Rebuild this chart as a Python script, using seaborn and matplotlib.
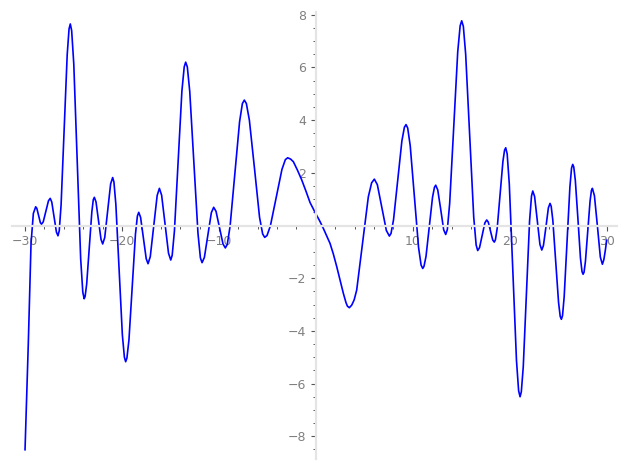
import numpy as np
import pandas as pd
import seaborn as sns
import matplotlib
matplotlib.use("Agg")
import matplotlib.pyplot as plt
from matplotlib.ticker import FixedLocator, MultipleLocator

# curve samples
x_vals = [-30.0, -29.66, -29.38, -29.14, -28.9,
          -28.78, -28.6, -28.42, -28.3,
          -28.12, -27.85, -27.58, -27.4,
          -27.24, -27.0, -26.76, -26.6,
          -26.47, -26.28, -25.97, -25.65, -25.46, -25.33,
          -25.19, -24.97, -24.62, -24.26, -24.04, -23.9,
          -23.80, -23.64, -23.38, -23.11, -22.96, -22.85,
          -22.68, -22.42, -22.16, -21.99,
          -21.78, -21.48, -21.17, -20.96,
          -20.83, -20.63, -20.29, -19.96, -19.75, -19.62,
          -19.49, -19.28, -18.95, -18.61, -18.41, -18.27,
          -18.08, -17.79, -17.50, -17.31,
          -17.08, -16.73, -16.37, -16.14,
          -15.91, -15.56, -15.20, -14.97,
          -14.82, -14.59, -14.20, -13.82, -13.58, -13.43,
          -13.26, -13.01, -12.59, -12.16, -11.91, -11.74,
          -11.50, -11.14, -10.78, -10.54,
          -10.30, -9.94, -9.58, -9.34,
          -9.14, -8.85, -8.36, -7.87, -7.58, -7.38,
          -7.17, -6.86, -6.33, -5.81, -5.49, -5.28,
          -5.04, -4.69, -4.10, -3.50, -3.15, -2.91,
          -2.6, -2.32, -1.9, -1.46, -1.0, -0.6, 0.0, 0.4, 0.77, 1.1, 1.46,
          1.8, 2.15, 2.5, 2.83, 3.1, 3.25, 3.45,
          3.7, 3.95, 4.21, 4.9, 5.41, 5.75, 6.03,
          6.34, 6.81, 7.27, 7.58,
          7.75, 8.01, 8.44, 8.87, 9.13, 9.30,
          9.47, 9.73, 10.16, 10.59, 10.85, 11.02,
          11.15, 11.36, 11.69, 12.03, 12.23, 12.36,
          12.57, 12.88, 13.18, 13.39,
          13.56, 13.80, 14.22, 14.63, 14.88, 15.04,
          15.21, 15.45, 15.87, 16.28, 16.53, 16.69,
          16.88, 17.16, 17.43, 17.62,
          17.78, 18.01, 18.24, 18.4,
          18.52, 18.70, 18.99, 19.29, 19.46, 19.58,
          19.73, 19.95, 20.32, 20.69, 20.91, 21.06,
          21.19, 21.39, 21.72, 22.04, 22.24, 22.37,
          22.56, 22.84, 23.11, 23.30,
          23.47, 23.73, 23.98, 24.15,
          24.27, 24.44, 24.74, 25.03, 25.20, 25.32,
          25.44, 25.61, 25.91, 26.20, 26.37, 26.49,
          26.60, 26.76, 27.03, 27.29, 27.45, 27.56,
          27.66, 27.80, 28.04, 28.28, 28.42, 28.52,
          28.73, 29.04, 29.34, 29.55,
          29.7, 29.85, 30.0]
y_vals = [-8.52, -4.47, -0.68, 0.46, 0.71,
          0.65, 0.38, 0.11, 0.05,
          0.14, 0.54, 0.94, 1.03,
          0.89, 0.32, -0.25, -0.39,
          -0.20, 0.78, 3.63, 6.48, 7.46, 7.65,
          7.40, 6.13, 2.44, -1.26, -2.53, -2.78,
          -2.69, -2.22, -0.86, 0.51, 0.98, 1.07,
          0.90, 0.19, -0.53, -0.70,
          -0.46, 0.56, 1.58, 1.82,
          1.65, 0.80, -1.68, -4.15, -5.00, -5.17,
          -5.03, -4.34, -2.34, -0.33, 0.36, 0.50,
          0.31, -0.48, -1.26, -1.45,
          -1.18, -0.02, 1.14, 1.41,
          1.15, 0.05, -1.05, -1.31,
          -1.13, -0.21, 2.45, 5.10, 6.02, 6.20,
          6.02, 5.09, 2.40, -0.30, -1.23, -1.41,
          -1.21, -0.36, 0.49, 0.69,
          0.54, -0.08, -0.70, -0.85,
          -0.72, -0.03, 1.96, 3.94, 4.63, 4.76,
          4.63, 4.00, 2.16, 0.31, -0.32, -0.45,
          -0.38, -0.01, 1.06, 2.13, 2.50, 2.57,
          2.52, 2.42, 2.10, 1.73, 1.28, 0.87, 0.44, 0.17, -0.11, -0.38, -0.68,
          -1.08, -1.56, -2.08, -2.57, -2.92, -3.06, -3.12,
          -3.02, -2.82, -2.45, -0.42, 1.09, 1.62, 1.76,
          1.55, 0.68, -0.19, -0.40,
          -0.30, 0.22, 1.72, 3.21, 3.73, 3.83,
          3.70, 3.03, 1.10, -0.83, -1.50, -1.63,
          -1.55, -1.17, -0.05, 1.07, 1.45, 1.53,
          1.35, 0.60, -0.16, -0.34,
          -0.15, 0.84, 3.72, 6.59, 7.58, 7.77,
          7.56, 6.50, 3.41, 0.32, -0.74, -0.95,
          -0.84, -0.37, 0.10, 0.21,
          0.13, -0.21, -0.55, -0.63,
          -0.54, -0.11, 1.16, 2.43, 2.86, 2.95,
          2.72, 1.57, -1.78, -5.12, -6.27, -6.50,
          -6.31, -5.36, -2.60, 0.17, 1.12, 1.31,
          1.10, 0.19, -0.72, -0.93,
          -0.76, -0.05, 0.67, 0.84,
          0.73, 0.20, -1.36, -2.92, -3.45, -3.56,
          -3.42, -2.70, -0.62, 1.46, 2.18, 2.32,
          2.22, 1.71, 0.24, -1.24, -1.75, -1.85,
          -1.77, -1.37, -0.22, 0.93, 1.33, 1.41,
          1.13, -0.03, -1.20, -1.47,
          -1.30, -0.95, -0.55]

x_ticks = [-30, -20, -10, 10, 20, 30]
y_ticks = [-8, -6, -4, -2, 2, 4, 6, 8]

df = pd.DataFrame({"x": x_vals, "y": y_vals})

sns.set_style("white")
fig = plt.figure(figsize=(6.27, 4.69), dpi=100)
ax = fig.add_axes([0.0198, 0.022, 0.9649, 0.9522])

sns.lineplot(data=df, x="x", y="y", sort=False, estimator=None,
             color="blue", linewidth=1.2, ax=ax)

ax.set_xlim(-31.3, 31.1)
ax.set_ylim(-8.85, 8.1)
ax.set_xlabel("")
ax.set_ylabel("")

for side in ["top", "right"]:
    ax.spines[side].set_visible(False)
for side in ["left", "bottom"]:
    ax.spines[side].set_position(("data", 0))
    ax.spines[side].set_color("#e4e4e4")
    ax.spines[side].set_linewidth(1.6)

ax.xaxis.set_major_locator(FixedLocator(x_ticks))
ax.yaxis.set_major_locator(FixedLocator(y_ticks))
ax.xaxis.set_minor_locator(MultipleLocator(2))
ax.yaxis.set_minor_locator(MultipleLocator(0.5))
ax.tick_params(which="major", direction="out", length=3.5, width=0.8,
               color="#555555", labelsize=9, labelcolor="#808080")
ax.tick_params(which="minor", direction="out", length=2.2, width=0.7,
               color="#555555")
ax.tick_params(axis="x", which="both", bottom=True)
ax.tick_params(axis="y", which="both", left=True)

fig.savefig("out.png", dpi=100)
